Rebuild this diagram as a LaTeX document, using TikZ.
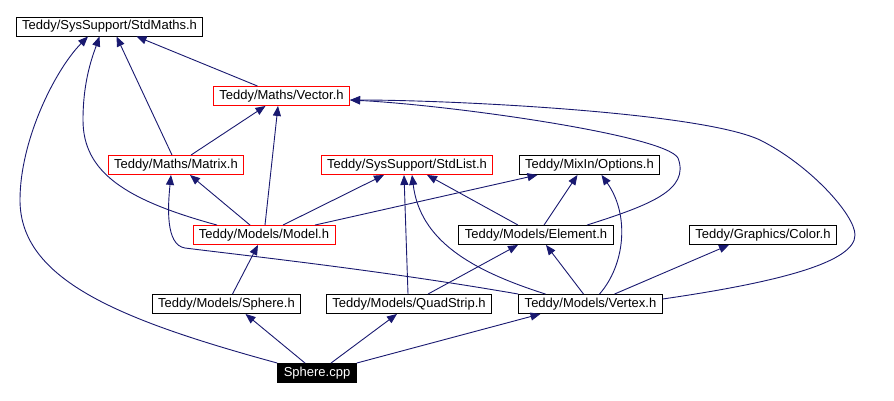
\documentclass[tikz,border=0pt]{standalone}
\usepackage{fontspec}
\setmainfont{Liberation Sans}
\usepackage{tikz}
\usetikzlibrary{arrows.meta}
\definecolor{depblue}{HTML}{191970}

\begin{document}
\begin{tikzpicture}[
    x=1pt, y=-1pt,
    font=\fontsize{13}{13}\selectfont,
    file/.style={rectangle, draw=black, fill=white, line width=0.9pt,
      inner xsep=6pt, inner ysep=0pt, minimum height=19pt},
    partial/.style={file, draw=red},
    root/.style={file, fill=black, text=white},
    dep/.style={-{Triangle[length=10pt,width=8pt]}, draw=depblue, line width=0.9pt}
  ]
    \useasboundingbox (0,0) rectangle (894,401);
    % headers
    \node[file]    (stdmaths)  at (109.5,26.5) {Teddy/SysSupport/StdMaths.h};
    \node[partial] (vector)    at (281.5,96)   {Teddy/Maths/Vector.h};
    \node[partial] (matrix)    at (176,165)    {Teddy/Maths/Matrix.h};
    \node[partial] (stdlist)   at (407,165)    {Teddy/SysSupport/StdList.h};
    \node[file]    (options)   at (589.5,165)  {Teddy/MixIn/Options.h};
    \node[partial] (model)     at (264,235)    {Teddy/Models/Model.h};
    \node[file]    (element)   at (536,235)    {Teddy/Models/Element.h};
    \node[file]    (color)     at (763,235)    {Teddy/Graphics/Color.h};
    \node[file]    (sphereh)   at (226.5,304)  {Teddy/Models/Sphere.h};
    \node[file]    (quadstrip) at (409,304)    {Teddy/Models/QuadStrip.h};
    \node[file]    (vertex)    at (590.5,304)  {Teddy/Models/Vertex.h};
    \node[root]    (spherecpp) at (317,373)    {Sphere.cpp};

    % Sphere.cpp
    \draw[dep] (spherecpp.north west) .. controls (120,320) and (20,280) .. (20,200)
      .. controls (20,140) and (55,70) .. ([xshift=-21.5pt]stdmaths.south);
    \draw[dep] ([xshift=-12pt]spherecpp.north) -- ([xshift=19pt]sphereh.south);
    \draw[dep] ([xshift=14pt]spherecpp.north) -- ([xshift=-12pt]quadstrip.south);
    \draw[dep] (spherecpp.north east) -- ([xshift=-50pt]vertex.south);

    % Vector.h, Matrix.h
    \draw[dep] ([xshift=-24pt]vector.north) -- ([xshift=27pt]stdmaths.south);
    \draw[dep] ([xshift=-4pt]matrix.north) -- ([xshift=7pt]stdmaths.south);
    \draw[dep] ([xshift=15pt]matrix.north) -- ([xshift=-16pt]vector.south);

    % Model.h
    \draw[dep] ([xshift=-47pt]model.north) .. controls (125,200) and (83,172) .. (83,120)
      .. controls (83,80) and (93,55) .. ([xshift=-10pt]stdmaths.south);
    \draw[dep] ([xshift=1pt]model.north) -- ([xshift=-3.5pt]vector.south);
    \draw[dep] ([xshift=-14pt]model.north) -- ([xshift=14pt]matrix.south);
    \draw[dep] ([xshift=19pt]model.north) -- ([xshift=-23pt]stdlist.south);
    \draw[dep] ([xshift=51pt]model.north) -- ([xshift=-52pt]options.south);

    % Element.h
    \draw[dep] ([xshift=-18pt]element.north) -- ([xshift=20pt]stdlist.south);
    \draw[dep] ([xshift=8pt]element.north) -- ([xshift=-12pt]options.south);
    \draw[dep] ([xshift=51pt]element.north) .. controls (650,205) and (690,190) .. (678,158)
      .. controls (665,135) and (450,105) .. ([yshift=-4pt]vector.east);

    % Vertex.h
    \draw[dep] ([yshift=5pt]vertex.east) .. controls (780,282) and (855,262) .. (855,235)
      .. controls (855,215) and (810,165) .. (760,140)
      .. controls (700,112) and (450,100) .. ([yshift=-4pt]vector.east);
    \draw[dep] ([xshift=-45pt]vertex.north) .. controls (470,270) and (420,240)
      .. ([xshift=5pt]stdlist.south);
    \draw[dep] (vertex.north west) .. controls (380,270) and (240,255) .. (185,248)
      .. controls (165,245) and (168,205) .. ([xshift=-5pt]matrix.south);
    \draw[dep] ([xshift=-7pt]vertex.north) -- ([xshift=10pt]element.south);
    \draw[dep] ([xshift=9pt]vertex.north) .. controls (625,265) and (630,215)
      .. ([xshift=12pt]options.south);
    \draw[dep] ([xshift=24pt]vertex.north) -- ([xshift=-34pt]color.south);

    % QuadStrip.h, Sphere.h
    \draw[dep] ([xshift=-1pt]quadstrip.north) -- ([xshift=-3pt]stdlist.south);
    \draw[dep] ([xshift=19pt]quadstrip.north) -- ([xshift=-18pt]element.south);
    \draw[dep] ([xshift=6pt]sphereh.north) -- ([xshift=-6pt]model.south);
\end{tikzpicture}
\end{document}
